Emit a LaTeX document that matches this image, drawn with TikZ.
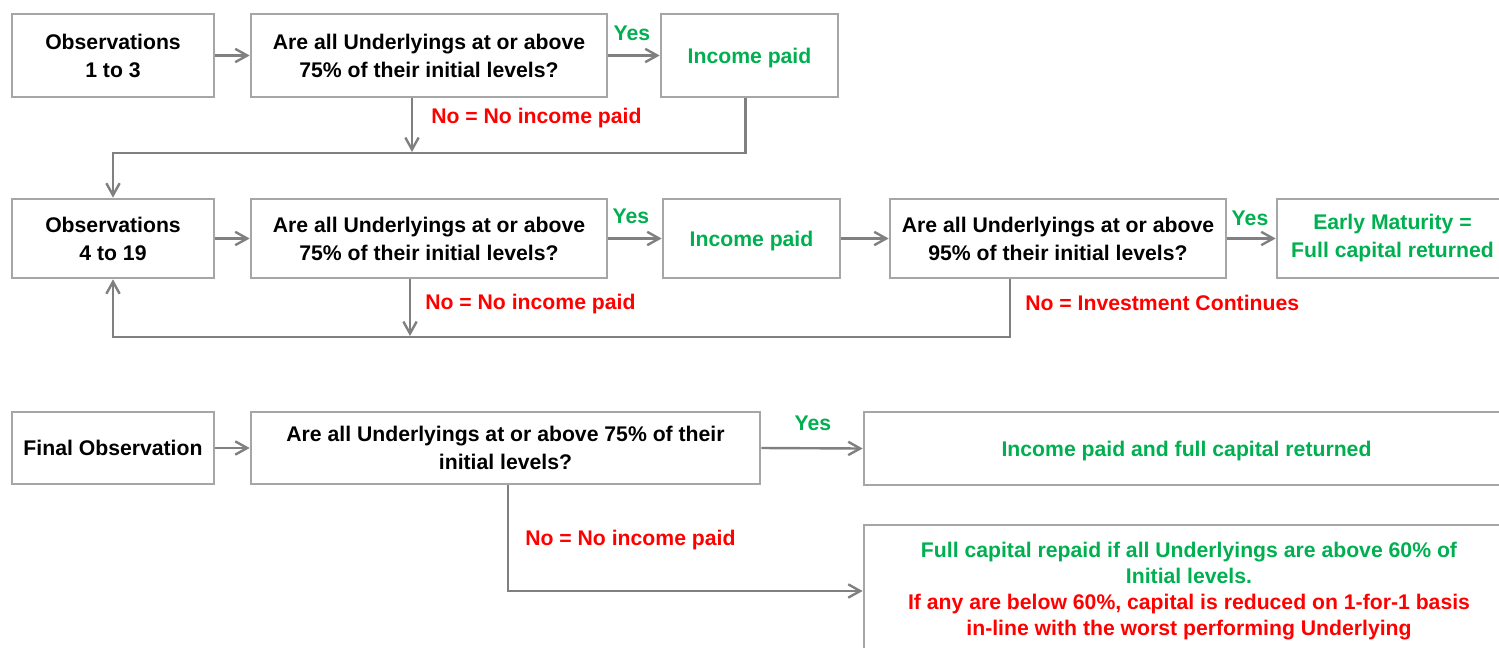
\documentclass[tikz,border=0pt]{standalone}
\usepackage{fontspec}
\setmainfont{Liberation Sans}
\usetikzlibrary{arrows.meta,calc}
\definecolor{grn}{RGB}{0,176,80}
\definecolor{rd}{RGB}{255,0,0}
\definecolor{boxgray}{RGB}{166,166,166}
\definecolor{arrgray}{RGB}{128,128,128}
\begin{document}
\begin{tikzpicture}[x=0.75pt,y=-0.75pt,
 box/.style={draw=boxgray,line width=2pt,inner sep=0pt,align=center,font=\fontsize{15.9}{21}\selectfont\bfseries},
 sz/.style 2 args={minimum width={#1*0.75pt},minimum height={#2*0.75pt}},
 arr/.style={draw=arrgray,line width=1.8pt,-{Straight Barb[length=9pt,width=10pt]}},
 lbl/.style={font=\fontsize{15.9}{21}\selectfont\bfseries,inner sep=0pt,text depth=0pt}
]
\useasboundingbox (0,0) rectangle (1499,647);
% row 1
\node[box,sz={202}{83}] (A) at (113,55.5) {Observations\\1 to 3};
\node[box,sz={356}{83}] (B) at (429,55.5) {Are all Underlyings at or above\\75\% of their initial levels?};
\node[box,sz={177}{83},text=grn,text depth=0pt] (C) at (749.5,55.5) {Income paid};
% row 2
\node[box,sz={202}{79}] (D) at (113,238.5) {Observations\\4 to 19};
\node[box,sz={356}{79}] (E) at (429,238.5) {Are all Underlyings at or above\\75\% of their initial levels?};
\node[box,sz={177}{79},text=grn,text depth=0pt] (F) at (751.5,238.5) {Income paid};
\node[box,sz={336}{79}] (G) at (1058,238.5) {Are all Underlyings at or above\\95\% of their initial levels?};
\node[box,sz={231}{79},text=grn] (H) at (1392.5,238.5) {Early Maturity =\\Full capital returned};
% row 3
\node[box,sz={202}{72}] (I) at (113,448) {Final Observation};
\node[box,sz={509}{72}] (J) at (505.5,448) {Are all Underlyings at or above 75\% of their\\initial levels?};
\node[box,sz={645}{73},text=grn,text depth=0pt] (K) at (1186.5,448.5) {Income paid and full capital returned};
\node[box,sz={650}{132},font=\fontsize{15.9}{19.6}\selectfont\bfseries] (L) at (1189,591) {\textcolor{grn}{Full capital repaid if all Underlyings are above 60\% of}\\\textcolor{grn}{Initial levels.}\\\textcolor{rd}{If any are below 60\%, capital is reduced on 1-for-1 basis}\\\textcolor{rd}{in-line with the worst performing Underlying}};
% helper coordinates
\coordinate (c1) at (412,152);
\coordinate (c2) at (0,153);
\coordinate (c3) at (410,336);
\coordinate (c4) at (1010,337);
\coordinate (c5) at (508,590);
% row 1 connectors
\draw[arr] (A.east) -- (B.west);
\draw[arr] (B.east) -- (C.west);
\draw[arr] (B.south -| c1) -- (c1);
\draw[arr] ([xshift=-3pt]C.south) -- ([xshift=-3pt]C.south |- c2) -| (D.north);
% row 2 connectors
\draw[arr] (D.east) -- (E.west);
\draw[arr] (E.east) -- (F.west);
\draw[arr] (F.east) -- (G.west);
\draw[arr] (G.east) -- (H.west);
\draw[arr] (E.south -| c3) -- (c3);
\draw[arr] (G.south -| c4) -- (c4) -| (D.south);
% row 3 connectors
\draw[arr] (I.east) -- (J.west);
\draw[arr] (J.east) -- (K.west);
\draw[arr] (J.south -| c5) |- (L.west);
% labels
\node[lbl,text=grn] (y1) at (632,33) {Yes};
\node[lbl,text=grn] (y2) at (631,216) {Yes};
\node[lbl,text=grn] (y3) at (1250,218) {Yes};
\node[lbl,text=grn] (y4) at (813,423) {Yes};
\node[lbl,text=rd,anchor=west] (n1) at (431,116) {No = No income paid};
\node[lbl,text=rd,anchor=west] (n2) at (425,302) {No = No income paid};
\node[lbl,text=rd,anchor=west] (n3) at (1025,303) {No = Investment Continues};
\node[lbl,text=rd,anchor=west] (n4) at (525,538) {No = No income paid};
\end{tikzpicture}
\end{document}
